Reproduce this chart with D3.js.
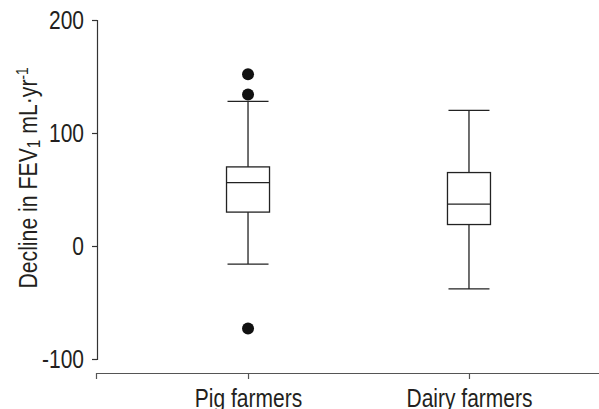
<!DOCTYPE html>
<html>
<head>
<meta charset="utf-8">
<script src="https://cdn.jsdelivr.net/npm/d3@7"></script>
<style>
  body { margin: 0; background: #fff; }
  svg text { font-family: "Liberation Sans", Arial, sans-serif; fill: #231f20; }
</style>
</head>
<body>
<div class="draw-section"></div>
<script>
// values
const groups = ['Pig farmers', 'Dairy farmers'];
const lowerWhisker = [-16, -38];
const q1 = [30, 19];
const median = [56, 37];
const q3 = [70, 65];
const upperWhisker = [128, 120];
const outliers = [[152, 134, -73], []];
const yTicks = [-100, 0, 100, 200];

const width = 599;
const height = 409;

// the reference uses a condensed face; squeeze the glyphs horizontally
// around the text's own anchor point
const condense = (sel, f) => {
  sel.each(function() {
    const node = d3.select(this);
    const x0 = +node.attr('x') || 0;
    const t = node.attr('transform') || '';
    node.attr('x', x0 / f).attr('transform', `${t} scale(${f},1)`);
  });
};

const svg = d3
  .select('.draw-section')
  .append('svg')
  .attr('width', width)
  .attr('height', height);

const y = d3.scaleLinear().domain([-100, 200]).range([359, 20]);
const x = d3
  .scalePoint()
  .domain(groups)
  .range([96, 621])
  .padding(0.688);

// y axis
const yAxis = d3
  .axisLeft(y)
  .tickValues(yTicks)
  .tickFormat(d => String(d))
  .tickSize(5)
  .tickSizeOuter(5)
  .tickPadding(8);

const gy = svg
  .append('g')
  .attr('transform', 'translate(97,0)')
  .call(yAxis);
gy.attr('font-family', null);
gy.selectAll('path, line').attr('stroke', '#333').attr('stroke-width', 1.2);
gy.selectAll('text').attr('font-size', 25).attr('fill', '#231f20');
condense(gy.selectAll('text'), 0.84);

// x axis
const xAxis = d3
  .axisBottom(x)
  .tickSize(6)
  .tickSizeOuter(6)
  .tickPadding(10);

const gx = svg
  .append('g')
  .attr('transform', 'translate(0,373)')
  .call(xAxis);
gx.attr('font-family', null);
gx.selectAll('path, line').attr('stroke', '#555').attr('stroke-width', 1.2);
gx.selectAll('text').attr('font-size', 25).attr('fill', '#231f20');
condense(gx.selectAll('text'), 0.84);

// y axis title
const title = svg
  .append('text')
  .attr('transform', 'translate(37,178) rotate(-90)')
  .attr('text-anchor', 'middle')
  .attr('font-size', 25);
title.append('tspan').text('Decline in FEV');
title.append('tspan').attr('font-size', 18).attr('dy', 3).text('1');
title.append('tspan').attr('dy', -3).text(' mL·yr');
title.append('tspan').attr('font-size', 16).attr('dy', -9).text('-1');
condense(title, 0.85);

// boxes
const boxW = 43;
const capW = 41;
const stroke = '#222';

const boxes = svg
  .selectAll('g.box')
  .data(groups)
  .enter()
  .append('g')
  .attr('class', 'box')
  .attr('transform', d => `translate(${x(d)},0)`);

boxes
  .append('line')
  .attr('x1', 0)
  .attr('x2', 0)
  .attr('y1', (d, i) => y(upperWhisker[i]))
  .attr('y2', (d, i) => y(q3[i]));

boxes
  .append('line')
  .attr('x1', 0)
  .attr('x2', 0)
  .attr('y1', (d, i) => y(q1[i]))
  .attr('y2', (d, i) => y(lowerWhisker[i]));

boxes
  .append('line')
  .attr('x1', -capW / 2)
  .attr('x2', capW / 2)
  .attr('y1', (d, i) => y(upperWhisker[i]))
  .attr('y2', (d, i) => y(upperWhisker[i]));

boxes
  .append('line')
  .attr('x1', -capW / 2)
  .attr('x2', capW / 2)
  .attr('y1', (d, i) => y(lowerWhisker[i]))
  .attr('y2', (d, i) => y(lowerWhisker[i]));

boxes
  .append('rect')
  .attr('x', -boxW / 2)
  .attr('width', boxW)
  .attr('y', (d, i) => y(q3[i]))
  .attr('height', (d, i) => y(q1[i]) - y(q3[i]))
  .attr('fill', '#fff');

boxes
  .append('line')
  .attr('x1', -boxW / 2)
  .attr('x2', boxW / 2)
  .attr('y1', (d, i) => y(median[i]))
  .attr('y2', (d, i) => y(median[i]));

boxes
  .selectAll('line, rect')
  .attr('stroke', stroke)
  .attr('stroke-width', 1.3);

boxes
  .selectAll('circle')
  .data((d, i) => outliers[i])
  .enter()
  .append('circle')
  .attr('cx', 0)
  .attr('cy', d => y(d))
  .attr('r', 6)
  .attr('fill', '#111');
</script>
</body>
</html>
